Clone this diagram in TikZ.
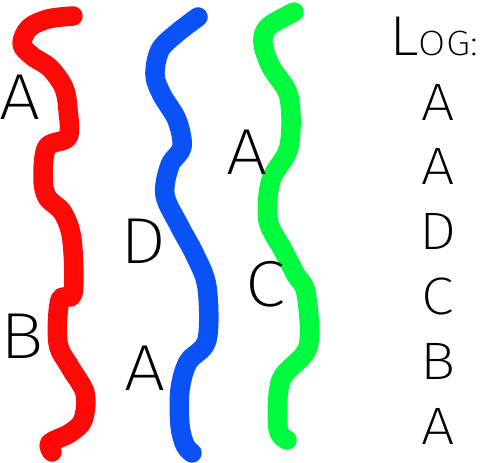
\documentclass[tikz,border=0pt]{standalone}
\usepackage{fontspec}
\IfFontExistsTF{Fira Sans ExtraLight}{%
	\setmainfont{Fira Sans}[UprightFont=* ExtraLight, FakeStretch=1.12]}{%
	\setmainfont{Fira Sans}[UprightFont=* Light, FakeStretch=1.12]}
\usepackage{tikz}
\usetikzlibrary{positioning}
\definecolor{threadred}{RGB}{255,8,8}
\definecolor{threadblue}{RGB}{10,82,245}
\definecolor{threadgreen}{RGB}{0,250,62}
\tikzset{%
	thread/.style   = {line width=3.9mm, line cap=round, line join=round}, % one process
	letter/.style   = {inner sep=0pt, font=\fontsize{37}{37}\selectfont}, % event on a thread
	logentry/.style = {inner sep=0pt, font=\fontsize{30}{30}\selectfont}, % line of the log
}
\begin{document}
\begin{tikzpicture}[x=0.2mm, y=-0.2mm, node distance = 12.96mm]
	\useasboundingbox (0,0) rectangle (502,462);
	
	\draw[thread, threadred] plot[smooth, tension=0.55] coordinates {(73,16) (48,19) (29,28) (22,44) (32,56) (50,68) (64,88) (68,110) (68,137) (47,147) (43,177) (47,197) (63,213) (72,240) (73,293) (60,300) (58,343) (70,367) (85,393) (83,420) (70,433) (50,443) (52,452)};
	\draw[thread, threadblue] plot[smooth, tension=0.55] coordinates {(198,17) (177,33) (160,50) (155,75) (162,95) (177,120) (182,147) (170,165) (165,195) (180,227) (195,255) (207,287) (207,340) (188,362) (180,390) (180,425) (185,445) (192,453)};
	\draw[thread, threadgreen] plot[smooth, tension=0.55] coordinates {(294,12) (268,27) (263,43) (271,67) (289,97) (289,147) (271,180) (268,220) (283,250) (296,275) (306,293) (308,347) (281,380) (278,428) (287,440)};
	
	\node[letter] (redA) at (20,97) {A};
	\node[letter] (redB) at (22,336) {B};
	\node[letter] (blueD) at (143,241) {D};
	\node[letter] (blueA) at (145,368) {A};
	\node[letter] (greenA) at (247,152) {A};
	\node[letter] (greenC) at (265,284) {C};
	
	\node[anchor=base west, inner sep=0pt] (logtitle) at (389,55) {{\fontsize{32}{32}\selectfont L}{\fontsize{20}{20}\selectfont OG:}};
	\node[logentry] (log1) at (438,102) {A};
	\node[logentry, below of=log1] (log2) {A};
	\node[logentry, below of=log2] (log3) {D};
	\node[logentry, below of=log3] (log4) {C};
	\node[logentry, below of=log4] (log5) {B};
	\node[logentry, below of=log5] (log6) {A};
\end{tikzpicture}
\end{document}
